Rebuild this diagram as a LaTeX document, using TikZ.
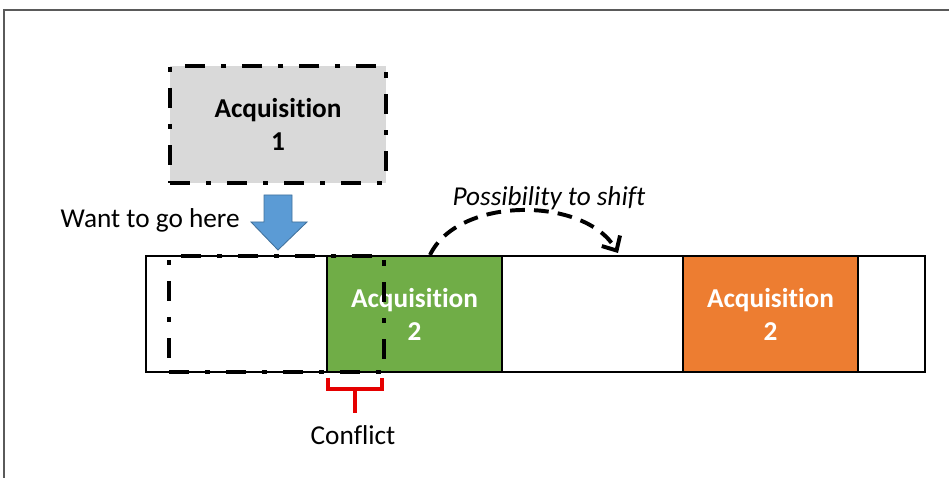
\documentclass[tikz,border=0pt]{standalone}
\usepackage{fontspec}
\setmainfont{Carlito}[RawFeature={-liga;-clig;-dlig}]
\usetikzlibrary{arrows.meta}
\definecolor{slotgreen}{HTML}{70AD47}
\definecolor{slotorange}{HTML}{ED7D31}
\definecolor{movblue}{HTML}{5B9BD5}
\definecolor{movedge}{HTML}{41719C}
\definecolor{acqgray}{HTML}{D9D9D9}
\definecolor{framegray}{HTML}{5A5A5A}
\def\px{0.025cm}
\tikzset{
  acq font/.style={font=\fontsize{19.4}{23.5}\selectfont\bfseries,align=center},
  slot/.style={draw=black,line width=1.5pt,minimum height=116*\px,inner sep=0pt},
  acq slot/.style={slot,acq font,text=white,minimum width=175*\px},
  dash box/.style={draw=black,line width=2.8pt,line cap=butt,
    dash pattern=on 14.2pt off 11.4pt on 3.6pt off 11.4pt,inner sep=0pt},
  plain label/.style={font=\fontsize{19.4}{23.5}\selectfont,inner sep=0pt},
  shift arrow/.style={line width=2.8pt,dash pattern=on 10.5pt off 6.5pt,
    -{Straight Barb[length=8pt,width=15pt,line width=2.8pt]}},
  conflict mark/.style={red!90!black,line width=2.4pt}
}
\begin{document}
\begin{tikzpicture}[x=\px,y=-\px]
  \useasboundingbox (0,0) rectangle (949,478);
  \draw[framegray,line width=0.8pt] (4,478) -- (4,10) -- (949,10);
  % timeline with the two slots
  \node[slot,minimum width=779*\px] (bar) at (535.5,314) {};
  \node[acq slot,fill=slotgreen] (acqtwo) at (414.5,314) {Acquisition\\2};
  \node[acq slot,fill=slotorange] (acqtwob) at (770.5,314) {Acquisition\\2};
  \node[dash box,minimum width=215*\px,minimum height=116*\px] (wanted) at (276.5,314) {};
  % the acquisition that wants to move in
  \node[dash box,fill=acqgray,acq font,minimum width=216*\px,minimum height=117*\px] (acqone) at (278,124.5) {Acquisition\\1};
  \fill[movblue,draw=movedge,line width=0.6pt] (264,195) -- (292,195) -- (292,222) -- (307,222)
    -- (278,250) -- (251,222) -- (264,222) -- cycle;
  \node[plain label,anchor=east] (wantlbl) at (240,220) {Want to go here};
  % shift arrow
  \coordinate (shiftfrom) at (430,255);
  \coordinate (shiftto) at (618,253);
  \draw[shift arrow] (shiftfrom) .. controls (458,196) and (585,196) .. (shiftto);
  \node[plain label,font=\fontsize{19.4}{23.5}\selectfont\itshape] (shiftlbl) at (549,198) {Possibility to shift};
  % conflict bracket
  \node[plain label,anchor=north,inner sep=0pt,yshift=-1pt] (conflict) at (353,424) {Conflict};
  \coordinate (brk) at (355,389);
  \draw[conflict mark] (328,378) -- (328,389) -- (382,389) -- (382,378);
  \draw[conflict mark] (brk) -- (355,413);
\end{tikzpicture}
\end{document}
